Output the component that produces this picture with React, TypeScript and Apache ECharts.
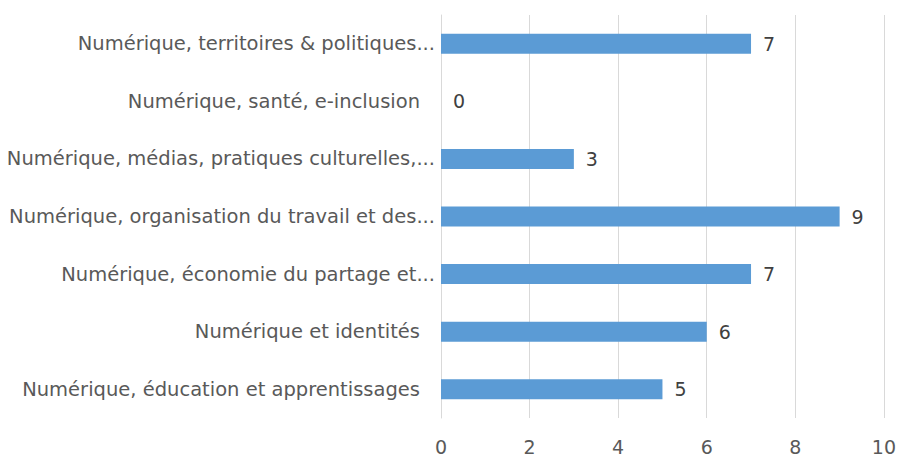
import React, { useEffect, useRef } from "react";
import * as echarts from "echarts";

const categories = [
  "Numérique, éducation et apprentissages ",
  "Numérique et identités ",
  "Numérique, économie du partage et...",
  "Numérique, organisation du travail et des...",
  "Numérique, médias, pratiques culturelles,...",
  "Numérique, santé, e-inclusion ",
  "Numérique, territoires & politiques...",
];
const values = [5, 6, 7, 9, 3, 0, 7];
const xTicks = { min: 0, max: 10, interval: 2 };

const FONT = "DejaVu Sans";
const FS = 19.5;

export default function App() {
  const ref = useRef<HTMLDivElement>(null);
  useEffect(() => {
    const chart = echarts.init(ref.current!, null, { renderer: "svg" });
    chart.setOption({
      animation: false,
      backgroundColor: "#ffffff",
      textStyle: { fontFamily: FONT },
      grid: { left: 441, right: 14, top: 15, bottom: 39, containLabel: false },
      xAxis: {
        type: "value",
        min: xTicks.min,
        max: xTicks.max,
        interval: xTicks.interval,
        axisLine: { show: false },
        axisTick: { show: false },
        splitLine: { show: true, lineStyle: { color: "#d9d9d9", width: 1 } },
        axisLabel: { color: "#595959", fontSize: 19, margin: 19, fontFamily: FONT },
      },
      yAxis: {
        type: "category",
        data: categories,
        axisLine: { show: true, lineStyle: { color: "#d9d9d9" } },
        axisTick: { show: false },
        axisLabel: {
          color: "#595959",
          fontSize: FS,
          margin: 6,
          fontFamily: FONT,
          formatter: (v: string) =>
            / $/.test(v) ? `{s|${v.trim()}}` : `{n|${v}}`,
          rich: {
            s: { color: "#595959", fontSize: FS, fontFamily: FONT, padding: [0, 15, 0, 0] },
            n: { color: "#595959", fontSize: FS, fontFamily: FONT },
          },
        },
      },
      series: [
        {
          type: "bar",
          data: values,
          barWidth: 20,
          itemStyle: { color: "#5b9bd5" },
          label: {
            show: true,
            position: "right",
            distance: 12,
            color: "#404040",
            fontSize: 19,
            fontFamily: FONT,
          },
        },
      ],
    });
    return () => chart.dispose();
  }, []);
  return (
    <div
      ref={ref}
      style={{ position: "fixed", left: 0, top: 0, width: 899, height: 457, background: "#fff" }}
    />
  );
}
